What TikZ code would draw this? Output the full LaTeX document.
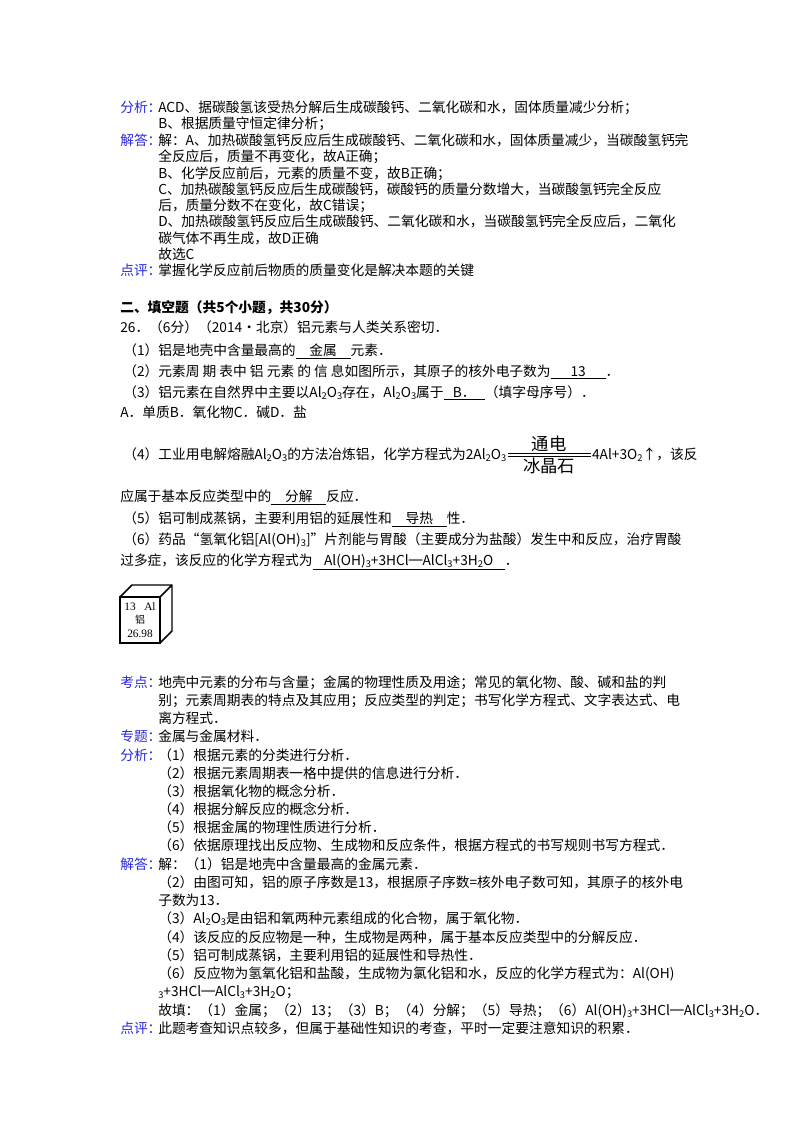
\documentclass[tikz,border=0pt]{standalone}
\usepackage{fontspec}
\setmainfont{Noto Sans CJK SC}
\newfontfamily\latf{Liberation Serif}
\newcommand{\lsub}[1]{\raisebox{-0.35ex}{\scriptsize #1}}
\newcommand{\ul}[2]{\underline{\makebox[#1]{#2}}}
\definecolor{lab}{RGB}{40,40,220}
\tikzset{t/.style={anchor=base west,inner sep=0pt,font=\fontsize{10.3pt}{12pt}\selectfont},
 lb/.style={t,text=lab}}
\begin{document}
\begin{tikzpicture}[x=0.75pt,y=-0.75pt]
\useasboundingbox (0,0) rectangle (800,1132);
\def\L{120}\def\I{158}
\node[lb] (a1) at (\L,112) {分析：};
\node[t] (a2) at (\I,112) {ACD、据碳酸氢该受热分解后生成碳酸钙、二氧化碳和水，固体质量减少分析；};
\node[t] (a3) at (\I,128.5) {B、根据质量守恒定律分析；};
\node[lb] (a4) at (\L,145) {解答：};
\node[t] (a5) at (\I,145) {解：A、加热碳酸氢钙反应后生成碳酸钙、二氧化碳和水，固体质量减少，当碳酸氢钙完};
\node[t] (a6) at (\I,161.5) {全反应后，质量不再变化，故A正确；};
\node[t] (a7) at (\I,178) {B、化学反应前后，元素的质量不变，故B正确；};
\node[t] (a8) at (\I,194) {C、加热碳酸氢钙反应后生成碳酸钙，碳酸钙的质量分数增大，当碳酸氢钙完全反应};
\node[t] (a9) at (\I,210) {后，质量分数不在变化，故C错误；};
\node[t] (a10) at (\I,226.5) {D、加热碳酸氢钙反应后生成碳酸钙、二氧化碳和水，当碳酸氢钙完全反应后，二氧化};
\node[t] (a11) at (\I,243) {碳气体不再生成，故D正确};
\node[t] (a12) at (\I,259) {故选C};
\node[lb] (a13) at (\L,275) {点评：};
\node[t] (a14) at (\I,275) {掌握化学反应前后物质的质量变化是解决本题的关键};
\node[t,font=\fontsize{10.3pt}{12pt}\selectfont\bfseries] (h) at (\L,312) {二、填空题（共5个小题，共30分）};
\node[t] (q0) at (\L,332) {26．（6分）（2014•北京）铝元素与人类关系密切．};
\node[t] (q1) at (123,355) {（1）铝是地壳中含量最高的\ul{4em}{金属}元素．};
\node[t] (q2) at (123,376) {（2）元素周 期 表中 铝 元素 的 信 息如图所示，其原子的核外电子数为\ul{4em}{13}．};
\node[t] (q3) at (123,397) {（3）铝元素在自然界中主要以Al\lsub{2}O\lsub{3}存在，Al\lsub{2}O\lsub{3}属于\ul{3em}{B．}（填字母序号）．};
\node[t] (q4) at (\L,417) {A．单质B．氧化物C．碱D．盐};
\node[t] (q5) at (123,459) {（4）工业用电解熔融Al\lsub{2}O\lsub{3}的方法冶炼铝，化学方程式为2Al\lsub{2}O\lsub{3}};
\coordinate (e1) at ([xshift=1pt,yshift=3pt]q5.base east);
\coordinate (e2) at ([xshift=62pt]e1);
\coordinate (em) at ([xshift=31pt]e1);
\draw[line width=0.7pt] ([yshift=0.8pt]e1) -- ([yshift=0.8pt]e2) ([yshift=-0.8pt]e1) -- ([yshift=-0.8pt]e2);
\node[font=\fontsize{13pt}{14pt}\selectfont,inner sep=1pt,above] (c1) at ([yshift=1pt]em) {通电};
\node[font=\fontsize{13pt}{14pt}\selectfont,inner sep=1pt,below] (c2) at ([yshift=-1pt]em) {冰晶石};
\node[t] (q5b) at ([xshift=1pt,yshift=-3pt]e2) {4Al+3O\lsub{2}↑，该反};
\node[t] (q6) at (\L,501) {应属于基本反应类型中的\ul{4em}{分解}反应．};
\node[t] (q7) at (123,523) {（5）铝可制成蒸锅，主要利用铝的延展性和\ul{4em}{导热}性．};
\node[t] (q8) at (123,544) {（6）药品“氢氧化铝[Al(OH)\lsub{3}]”片剂能与胃酸（主要成分为盐酸）发生中和反应，治疗胃酸};
\node[t] (q9) at (\L,565) {过多症，该反应的化学方程式为\ul{14em}{Al(OH)\lsub{3}+3HCl═AlCl\lsub{3}+3H\lsub{2}O}．};
% cube
\draw[line width=1.1pt] (120,597) rectangle (160,643);
\draw[line width=1.1pt] (120,597) -- (132,585) -- (172,585) -- (172,631) -- (160,643) (160,597) -- (172,585);
\node[font=\latf\fontsize{8.5pt}{9pt}\selectfont,inner sep=0pt] (c13) at (140,607) {13\ \ \ Al};
\node[font=\fontsize{7.5pt}{8pt}\selectfont,inner sep=0pt] (cal) at (140,620) {铝};
\node[font=\latf\fontsize{8.5pt}{9pt}\selectfont,inner sep=0pt] (cm) at (140,634) {26.98};
\node[lb] (k0) at (\L,687) {考点：};
\node[t] (k1) at (\I,687) {地壳中元素的分布与含量；金属的物理性质及用途；常见的氧化物、酸、碱和盐的判};
\node[t] (k2) at (\I,705) {别；元素周期表的特点及其应用；反应类型的判定；书写化学方程式、文字表达式、电};
\node[t] (k3) at (\I,723) {离方程式．};
\node[lb] (z0) at (\L,741) {专题：};
\node[t] (z1) at (\I,741) {金属与金属材料．};
\node[lb] (f0) at (\L,760) {分析：};
\node[t] (f1) at (\I,760) {（1）根据元素的分类进行分析．};
\node[t] (f2) at (\I,778) {（2）根据元素周期表一格中提供的信息进行分析．};
\node[t] (f3) at (\I,796) {（3）根据氧化物的概念分析．};
\node[t] (f4) at (\I,814) {（4）根据分解反应的概念分析．};
\node[t] (f5) at (\I,832) {（5）根据金属的物理性质进行分析．};
\node[t] (f6) at (\I,850) {（6）依据原理找出反应物、生成物和反应条件，根据方程式的书写规则书写方程式．};
\node[lb] (j0) at (\L,869) {解答：};
\node[t] (j1) at (\I,869) {解：（1）铝是地壳中含量最高的金属元素．};
\node[t] (j2) at (\I,887) {（2）由图可知，铝的原子序数是13，根据原子序数=核外电子数可知，其原子的核外电};
\node[t] (j3) at (\I,905) {子数为13．};
\node[t] (j4) at (\I,923) {（3）Al\lsub{2}O\lsub{3}是由铝和氧两种元素组成的化合物，属于氧化物．};
\node[t] (j5) at (\I,942) {（4）该反应的反应物是一种，生成物是两种，属于基本反应类型中的分解反应．};
\node[t] (j6) at (\I,960) {（5）铝可制成蒸锅，主要利用铝的延展性和导热性．};
\node[t] (j7) at (\I,978) {（6）反应物为氢氧化铝和盐酸，生成物为氯化铝和水，反应的化学方程式为：Al(OH)};
\node[t] (j8) at (\I,996) {\lsub{3}+3HCl═AlCl\lsub{3}+3H\lsub{2}O；};
\node[t] (j9) at (\I,1015) {故填：（1）金属；（2）13；（3）B；（4）分解；（5）导热；（6）Al(OH)\lsub{3}+3HCl═AlCl\lsub{3}+3H\lsub{2}O．};
\node[lb] (p0) at (\L,1033) {点评：};
\node[t] (p1) at (\I,1033) {此题考查知识点较多，但属于基础性知识的考查，平时一定要注意知识的积累．};
\end{tikzpicture}
\end{document}
